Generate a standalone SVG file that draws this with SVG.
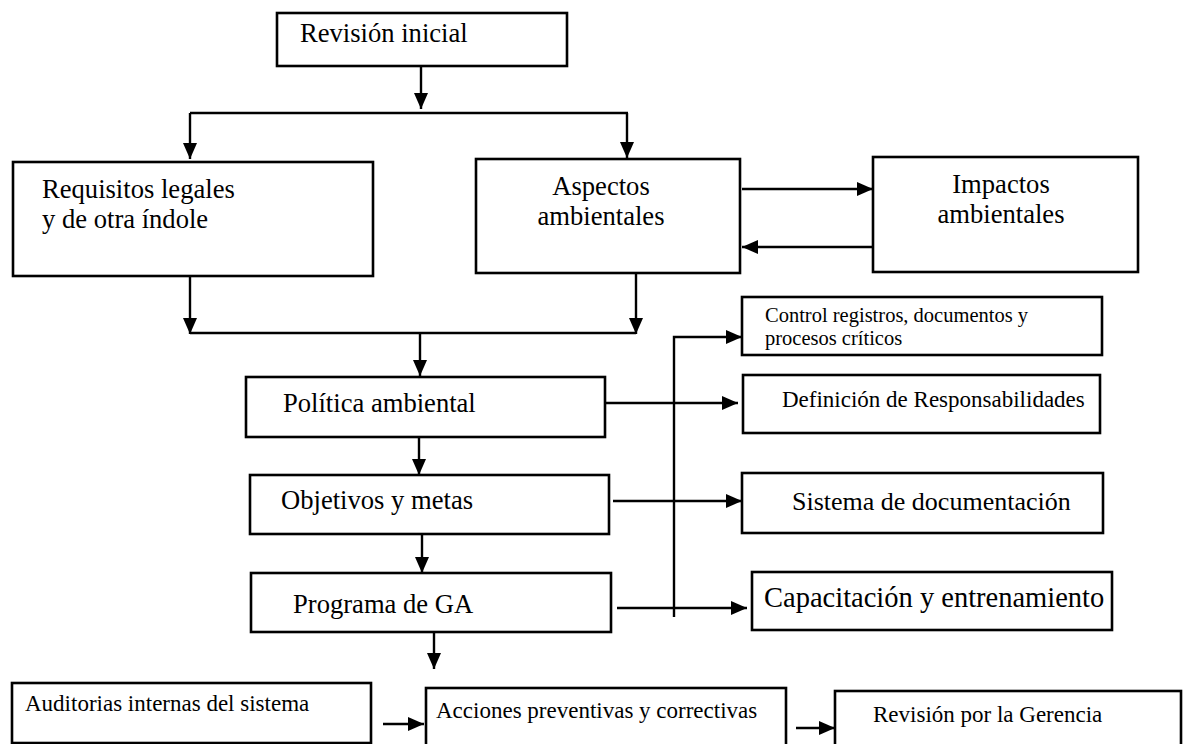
<svg xmlns="http://www.w3.org/2000/svg" width="1183" height="744" viewBox="0 0 1183 744">
<style>
.box{fill:#fff;stroke:#000;stroke-width:2.6}
.t{font-family:"Liberation Serif","Times New Roman",serif;fill:#000}
.big{font-size:26.6px}
.sm{font-size:23px}
.xs{font-size:20.5px}
.c{fill:none;stroke:#000;stroke-width:2.4}
</style>
<defs>
<marker id="ah" markerWidth="16" markerHeight="14" refX="16" refY="7" orient="auto" markerUnits="userSpaceOnUse"><path d="M0,0 L16,7 L0,14 z" fill="#000"/></marker>
</defs>
<rect width="1183" height="744" fill="#fff"/>
<g id="connectors">
<path class="c" d="M421,63 V109" marker-end="url(#ah)"/>
<path class="c" d="M190,113 H628"/>
<path class="c" d="M190,113 V159" marker-end="url(#ah)"/>
<path class="c" d="M627,113 V158" marker-end="url(#ah)"/>
<path class="c" d="M742,189 H873" marker-end="url(#ah)"/>
<path class="c" d="M873,247 H742" marker-end="url(#ah)"/>
<path class="c" d="M190,276 V334" marker-end="url(#ah)"/>
<path class="c" d="M636,273 V334" marker-end="url(#ah)"/>
<path class="c" d="M190,333 H636"/>
<path class="c" d="M420,333 V376" marker-end="url(#ah)"/>
<path class="c" d="M605,403 H738" marker-end="url(#ah)"/>
<path class="c" d="M674,617 V337 H742" marker-end="url(#ah)"/>
<path class="c" d="M419,437 V475" marker-end="url(#ah)"/>
<path class="c" d="M613,501 H742" marker-end="url(#ah)"/>
<path class="c" d="M422,534 V573" marker-end="url(#ah)"/>
<path class="c" d="M617,608 H747" marker-end="url(#ah)"/>
<path class="c" d="M434,622 V669" marker-end="url(#ah)"/>
<path class="c" d="M383,724 H424" marker-end="url(#ah)"/>
<path class="c" d="M796,728 H835" marker-end="url(#ah)"/>
</g>
<g id="revision-inicial">
<rect class="box" x="277" y="13" width="290" height="53"/>
<text class="t big" x="300" y="42">Revisión inicial</text>
</g>
<g id="requisitos">
<rect class="box" x="13" y="162" width="360" height="114"/>
<text class="t big" x="42" y="198">Requisitos legales</text>
<text class="t big" x="42" y="228">y de otra índole</text>
</g>
<g id="aspectos">
<rect class="box" x="476" y="159" width="264" height="114"/>
<text class="t big" x="601" y="195" text-anchor="middle">Aspectos</text>
<text class="t big" x="601" y="225" text-anchor="middle">ambientales</text>
</g>
<g id="impactos">
<rect class="box" x="873" y="157" width="265" height="115"/>
<text class="t big" x="1001" y="193" text-anchor="middle">Impactos</text>
<text class="t big" x="1001" y="223" text-anchor="middle">ambientales</text>
</g>
<g id="control">
<rect class="box" x="742" y="297" width="360" height="58"/>
<text class="t xs" x="765" y="322">Control registros, documentos y</text>
<text class="t xs" x="765" y="345">procesos críticos</text>
</g>
<g id="politica">
<rect class="box" x="246" y="377" width="359" height="60"/>
<text class="t big" x="283" y="412">Política ambiental</text>
</g>
<g id="definicion">
<rect class="box" x="743" y="375" width="357" height="58"/>
<text class="t sm" x="782" y="407">Definición de Responsabilidades</text>
</g>
<g id="objetivos">
<rect class="box" x="250" y="475" width="359" height="59"/>
<text class="t big" x="281" y="509">Objetivos y metas</text>
</g>
<g id="sistema">
<rect class="box" x="742" y="473" width="361" height="60"/>
<text class="t" font-size="26" x="792" y="510">Sistema de documentación</text>
</g>
<g id="programa">
<rect class="box" x="251" y="573" width="360" height="59"/>
<text class="t big" x="293" y="613">Programa de GA</text>
</g>
<g id="capacitacion">
<rect class="box" x="752" y="572" width="360" height="58"/>
<text class="t" font-size="28.5" x="764" y="607">Capacitación y entrenamiento</text>
</g>
<g id="auditorias">
<rect class="box" x="12" y="683" width="359" height="60"/>
<text class="t sm" x="25" y="711">Auditorias internas del sistema</text>
</g>
<g id="acciones">
<rect class="box" x="426" y="688" width="360" height="60"/>
<text class="t sm" x="436" y="718">Acciones preventivas y correctivas</text>
</g>
<g id="gerencia">
<rect class="box" x="835" y="691" width="346" height="60"/>
<text class="t sm" x="873" y="722">Revisión por la Gerencia</text>
</g>
</svg>
